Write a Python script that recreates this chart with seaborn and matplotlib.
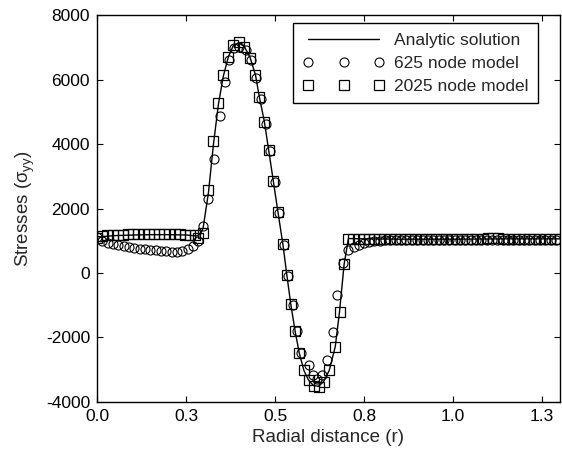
from matplotlib import pyplot as plt
import seaborn as sns
import pandas as pd

# analytic solution
an_x = [0.0, 0.05, 0.10, 0.15, 0.20, 0.25, 0.28, 0.29, 0.298, 0.313, 0.327, 0.341, 0.355,
        0.369, 0.383, 0.398, 0.414, 0.430, 0.445, 0.456, 0.470, 0.482, 0.495, 0.508, 0.522,
        0.533, 0.544, 0.556, 0.568, 0.581, 0.594, 0.608, 0.622, 0.636, 0.652, 0.669, 0.681,
        0.694, 0.706, 0.75, 0.85, 1.0, 1.15, 1.3]
an_y = [1120, 1160, 1180, 1190, 1190, 1180, 1150, 1200, 1400, 2500, 4000, 5250, 6130,
        6720, 7070, 7150, 7030, 6690, 6150, 5460, 4700, 3820, 2860, 1900, 890,
        -60, -960, -1790, -2490, -3030, -3330, -3500, -3520, -3380, -3030, -2290, -1200,
        280, 1070, 1060, 1050, 1050, 1060, 1060]

# 2025 node model (squares)
sq_x = [0.000, 0.015, 0.029, 0.044, 0.058, 0.073, 0.087, 0.102, 0.116, 0.131, 0.145,
        0.160, 0.174, 0.189, 0.203, 0.218, 0.232, 0.247, 0.261, 0.276, 0.285, 0.298,
        0.313, 0.327, 0.341, 0.355, 0.369, 0.383, 0.398, 0.414, 0.430, 0.445, 0.456,
        0.470, 0.482, 0.495, 0.508, 0.522, 0.533, 0.544, 0.556, 0.568, 0.581, 0.594,
        0.608, 0.622, 0.636, 0.652, 0.669, 0.681, 0.694, 0.706,
        0.720, 0.735, 0.749, 0.764, 0.778, 0.793, 0.807, 0.822, 0.836, 0.851, 0.865,
        0.880, 0.894, 0.909, 0.923, 0.938, 0.952, 0.967, 0.981, 0.996, 1.010, 1.025,
        1.039, 1.054, 1.068, 1.083, 1.097, 1.112, 1.126, 1.141, 1.155, 1.170, 1.184,
        1.199, 1.213, 1.228, 1.242, 1.257, 1.271, 1.286, 1.300]
sq_y = [1100, 1150, 1170, 1180, 1190, 1190, 1200, 1200, 1200, 1210, 1210,
        1210, 1210, 1210, 1200, 1200, 1200, 1190, 1190, 1180, 1090, 1240,
        2580, 4100, 5270, 6150, 6720, 7080, 7170, 7030, 6690, 6150, 5460,
        4700, 3820, 2860, 1900, 890, -60, -960, -1790, -2490, -3030, -3320,
        -3510, -3530, -3380, -3030, -2290, -1200, 280, 1070,
        1070, 1070, 1065, 1060, 1060, 1055, 1050, 1050, 1050, 1045, 1040,
        1040, 1040, 1040, 1040, 1045, 1045, 1050, 1050, 1050, 1055, 1060,
        1060, 1065, 1070, 1070, 1075, 1075, 1075, 1070, 1070, 1065, 1060,
        1060, 1060, 1060, 1060, 1060, 1060, 1060, 1060]

# 625 node model (circles)
ci_x = [0.000, 0.015, 0.030, 0.045, 0.060, 0.075, 0.090, 0.105, 0.120, 0.135, 0.150,
        0.165, 0.180, 0.195, 0.210, 0.225, 0.240, 0.255, 0.270, 0.284,
        0.298, 0.313, 0.329, 0.344, 0.360, 0.372, 0.386, 0.400, 0.417, 0.432, 0.447,
        0.461, 0.474, 0.487, 0.499, 0.512, 0.525, 0.537, 0.549, 0.561, 0.574, 0.594,
        0.606, 0.618, 0.633, 0.645, 0.663, 0.674, 0.691, 0.706, 0.721, 0.735, 0.749,
        0.764, 0.779, 0.794, 0.809, 0.824,
        0.839, 0.854, 0.869, 0.884, 0.899, 0.914, 0.929, 0.944, 0.959, 0.974, 0.989,
        1.004, 1.019, 1.034, 1.049, 1.064, 1.079, 1.094, 1.109, 1.124, 1.139, 1.154,
        1.169, 1.184, 1.199, 1.214, 1.229, 1.244, 1.259, 1.274, 1.289]
ci_y = [1110, 1000, 940, 890, 860, 830, 800, 775, 755, 740, 725,
        710, 695, 680, 665, 660, 680, 750, 850, 1000,
        1460, 2290, 3540, 4880, 5940, 6610, 7000, 7020, 6930, 6620, 6060,
        5400, 4640, 3780, 2840, 1870, 870, -80, -980, -1800, -2500, -2860,
        -3170, -3280, -3170, -2700, -1820, -680, 300, 710, 800, 870, 920,
        960, 985, 1000, 1010, 1015,
        1015, 1020, 1020, 1020, 1020, 1020, 1020, 1025, 1025, 1025, 1025,
        1030, 1030, 1030, 1030, 1030, 1035, 1035, 1035, 1030, 1030, 1030,
        1030, 1030, 1030, 1025, 1025, 1025, 1025, 1025, 1025]

x_ticks = [0.0, 0.25, 0.5, 0.75, 1.0, 1.25]
x_tick_labels = ["0.0", "0.3", "0.5", "0.8", "1.0", "1.3"]
y_ticks = [-4000, -2000, 0, 2000, 4000, 6000, 8000]

df_an = pd.DataFrame({"r": an_x, "s": an_y})
df_sq = pd.DataFrame({"r": sq_x, "s": sq_y})
df_ci = pd.DataFrame({"r": ci_x, "s": ci_y})

sns.set_style("ticks")
plt.rcParams["font.family"] = ["Liberation Sans", "DejaVu Sans"]
plt.rcParams["mathtext.fontset"] = "custom"
plt.rcParams["mathtext.rm"] = "Liberation Sans"
plt.rcParams["mathtext.it"] = "Liberation Sans"
plt.rcParams["axes.unicode_minus"] = False

fig = plt.figure(figsize=(5.62, 4.5), dpi=100)
ax = fig.add_axes([0.1726, 0.1073, 0.8238, 0.8583])

sns.lineplot(df_an, x="r", y="s", ax=ax, color="black", linewidth=1.0,
             label="Analytic solution", zorder=2)
sns.lineplot(df_ci, x="r", y="s", ax=ax, color="black", linestyle="", marker="o",
             markersize=6.5, markerfacecolor="none", markeredgecolor="black",
             markeredgewidth=0.8, label="625 node model", zorder=3)
sns.lineplot(df_sq, x="r", y="s", ax=ax, color="black", linestyle="", marker="s",
             markersize=7, markerfacecolor="none", markeredgecolor="black",
             markeredgewidth=0.9, label="2025 node model", zorder=4)

ax.set_xlim(0, 1.3)
ax.set_ylim(-4000, 8000)
ax.set_xticks(x_ticks)
ax.set_xticklabels(x_tick_labels)
ax.set_yticks(y_ticks)
ax.tick_params(direction="in", length=4, width=0.8, top=True, right=True,
               labelsize=12.5, colors="black", pad=5)
for sp in ax.spines.values():
    sp.set_linewidth(1.0)
    sp.set_color("black")
ax.set_xlabel("Radial distance (r)", fontsize=13.5, labelpad=4)
ax.set_ylabel(r"Stresses ($\sigma_{yy}$)", fontsize=13.5, labelpad=6)

leg = ax.legend(loc="upper right", bbox_to_anchor=(0.9525, 0.9806), borderaxespad=0,
                numpoints=3, handlelength=4.7, handletextpad=0.55, fontsize=12.5,
                frameon=True, fancybox=False, edgecolor="black", framealpha=1,
                borderpad=0.55, labelspacing=0.45)
leg.get_frame().set_linewidth(1.0)

fig.savefig("out.png", dpi=100)
